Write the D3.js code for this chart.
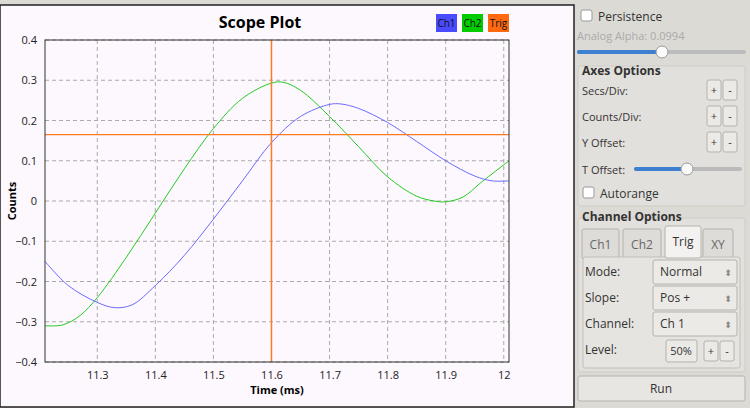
<!DOCTYPE html>
<html><head><meta charset="utf-8">
<script src="https://cdn.jsdelivr.net/npm/d3@7"></script>
<style>
body{margin:0;background:#dcdad5;font-family:"Open Sans","DejaVu Sans",sans-serif;}
svg text{font-family:"Open Sans","DejaVu Sans",sans-serif;}
</style></head><body>
<div id="chart"></div>
<script>
const width = 750, height = 408;

// data (time in ms, counts)
const ch1Time = [11.21, 11.25, 11.3, 11.33, 11.36, 11.4, 11.45, 11.5, 11.55, 11.6, 11.65, 11.7, 11.72, 11.75, 11.8, 11.85, 11.9, 11.95, 11.98, 12.009];
const ch1Vals = [-0.15, -0.21, -0.252, -0.265, -0.258, -0.21, -0.135, -0.045, 0.05, 0.145, 0.21, 0.24, 0.241, 0.23, 0.195, 0.148, 0.1, 0.062, 0.05, 0.05];
const ch2Time = [11.21, 11.24, 11.27, 11.3, 11.35, 11.4, 11.45, 11.5, 11.55, 11.6, 11.62, 11.65, 11.7, 11.75, 11.8, 11.85, 11.88, 11.9, 11.93, 11.96, 12.009];
const ch2Vals = [-0.31, -0.308, -0.285, -0.24, -0.14, -0.03, 0.08, 0.18, 0.255, 0.293, 0.295, 0.275, 0.21, 0.135, 0.06, 0.012, 0.0, -0.002, 0.01, 0.045, 0.1];
const xTicks = [11.3, 11.4, 11.5, 11.6, 11.7, 11.8, 11.9, 12];
const yTicks = [-0.4, -0.3, -0.2, -0.1, 0, 0.1, 0.2, 0.3, 0.4];
const trigLevel = 0.165, trigTime = 11.6;
const legend = [{name: "Ch1", color: "#4a4aff"}, {name: "Ch2", color: "#00cc00"}, {name: "Trig", color: "#ff6a10"}];

const svg = d3.select("#chart").append("svg").attr("width", width).attr("height", height);

// plot panel background
svg.append("rect").attr("x", 0).attr("y", 5).attr("width", 574).attr("height", 402)
  .attr("fill", "#fdf8fd").attr("stroke", "#222").attr("stroke-width", 1.5);

const area = {left: 45, right: 509, top: 40, bottom: 362};
const x = d3.scaleLinear().domain([11.21, 12.009]).range([area.left, area.right]);
const y = d3.scaleLinear().domain([-0.4, 0.4]).range([area.bottom, area.top]);

// gridlines
const grid = svg.append("g").attr("stroke", "#aaa").attr("stroke-dasharray", "4,3");
grid.selectAll(".gx").data(xTicks).join("line")
  .attr("x1", d => x(d)).attr("x2", d => x(d)).attr("y1", area.top).attr("y2", area.bottom);
grid.selectAll(".gy").data(yTicks).join("line")
  .attr("x1", area.left).attr("x2", area.right).attr("y1", d => y(d)).attr("y2", d => y(d));

// axes
svg.append("g").attr("transform", `translate(0,${area.bottom})`)
  .call(d3.axisBottom(x).tickValues(xTicks).tickFormat(d3.format("")).tickSize(0).tickPadding(9))
  .call(g => g.select(".domain").remove())
  .selectAll("text").attr("font-size", 11).attr("fill", "#222");
svg.append("g").attr("transform", `translate(${area.left},0)`)
  .call(d3.axisLeft(y).tickValues(yTicks).tickFormat(d => d3.format("")(+d.toFixed(1))).tickSize(0).tickPadding(8))
  .call(g => g.select(".domain").remove())
  .selectAll("text").attr("font-size", 11).attr("fill", "#222");

svg.append("text").attr("x", (area.left + area.right) / 2).attr("y", 394).attr("text-anchor", "middle")
  .attr("font-size", 11).attr("font-weight", "bold").text("Time (ms)");
svg.append("text").attr("transform", `translate(16,${(area.top + area.bottom) / 2}) rotate(-90)`)
  .attr("text-anchor", "middle").attr("font-size", 11).attr("font-weight", "bold").text("Counts");
svg.append("text").attr("x", 260).attr("y", 28).attr("text-anchor", "middle")
  .attr("font-size", 16).attr("font-weight", "bold").text("Scope Plot");

// legend
const lg = svg.append("g").selectAll("g").data(legend).join("g")
  .attr("transform", (d, i) => `translate(${436 + i * 26},14)`);
lg.append("rect").attr("width", 21).attr("height", 18).attr("fill", d => d.color);
lg.append("text").attr("x", 10.5).attr("y", 13).attr("text-anchor", "middle").attr("font-size", 10)
  .attr("fill", "#111").text(d => d.name);

// traces
const line = d3.line().x(d => x(d[0])).y(d => y(d[1])).curve(d3.curveCatmullRom);
svg.append("path").datum(ch2Time.map((t, i) => [t, ch2Vals[i]])).attr("d", line)
  .attr("fill", "none").attr("stroke", "#22cc22").attr("stroke-width", 1);
svg.append("path").datum(ch1Time.map((t, i) => [t, ch1Vals[i]])).attr("d", line)
  .attr("fill", "none").attr("stroke", "#6b6bff").attr("stroke-width", 1);
svg.append("line").attr("x1", area.left).attr("x2", area.right).attr("y1", y(trigLevel)).attr("y2", y(trigLevel))
  .attr("stroke", "#ff7a20").attr("stroke-width", 1.2);
svg.append("line").attr("x1", x(trigTime)).attr("x2", x(trigTime)).attr("y1", area.top).attr("y2", area.bottom)
  .attr("stroke", "#ff7a20").attr("stroke-width", 1.5);

svg.append("rect").attr("x", area.left).attr("y", area.top).attr("width", area.right - area.left)
  .attr("height", area.bottom - area.top).attr("fill", "none").attr("stroke", "#333");

// control panel
const p = svg.append("g");
function label(tx, ty, s, opts = {}) {
  p.append("text").attr("x", tx).attr("y", ty).attr("font-size", opts.size || 12)
    .attr("font-weight", opts.bold ? "bold" : null).attr("fill", opts.fill || "#333")
    .attr("text-anchor", opts.anchor || "start").text(s);
}
function box(bx, by, w, h, fill = "#eceae6", stroke = "#b5b2ac") {
  p.append("rect").attr("x", bx).attr("y", by).attr("width", w).attr("height", h).attr("rx", 2)
    .attr("fill", fill).attr("stroke", stroke);
}
function slider(x0, x1, k, yy) {
  p.append("line").attr("x1", x0).attr("x2", x1).attr("y1", yy).attr("y2", yy).attr("stroke", "#bbb").attr("stroke-width", 4).attr("stroke-linecap", "round");
  p.append("line").attr("x1", x0).attr("x2", k).attr("y1", yy).attr("y2", yy).attr("stroke", "#3d7fd0").attr("stroke-width", 4).attr("stroke-linecap", "round");
  p.append("circle").attr("cx", k).attr("cy", yy).attr("r", 6).attr("fill", "#fafafa").attr("stroke", "#999");
}
function pm(bx, by) {
  box(bx, by, 14, 20); box(bx + 16, by, 14, 20);
  label(bx + 7, by + 14, "+", {size: 11, anchor: "middle"});
  label(bx + 23, by + 14, "-", {size: 11, anchor: "middle"});
}
box(581, 10, 11, 11, "#fff", "#999"); label(598, 21, "Persistence", {size: 12});
label(577, 40, "Analog Alpha: 0.0994", {size: 11, fill: "#aaa"});
slider(579, 744, 662, 52);
box(578, 66, 167, 140, "#e2e0dc", "#cfccc6");
label(582, 75, "Axes Options", {bold: true});
label(582, 95, "Secs/Div:", {size: 11}); pm(707, 80);
label(582, 121, "Counts/Div:", {size: 11}); pm(707, 106);
label(582, 147, "Y Offset:", {size: 11}); pm(707, 132);
label(582, 174, "T Offset:", {size: 11}); slider(636, 740, 687, 169);
box(583, 187, 11, 11, "#fff", "#999"); label(600, 198, "Autorange", {size: 12});
box(578, 218, 167, 154, "#e2e0dc", "#cfccc6");
label(582, 221, "Channel Options", {bold: true});
[["Ch1", 582, 37], ["Ch2", 623, 38], ["XY", 703, 30]].forEach(([t, tx, w]) => {
  box(tx, 229, w, 30, "#dedcd8"); label(tx + w / 2, 249, t, {size: 12, anchor: "middle", fill: "#666"});
});
box(583, 257, 157, 111, "#e6e4e0", "#c2bfb9");
box(665, 226, 36, 32, "#f3f2f0"); label(683, 246, "Trig", {size: 12, anchor: "middle"});
[["Mode:", "Normal", 260], ["Slope:", "Pos +", 286], ["Channel:", "Ch 1", 312]].forEach(([l, v, by]) => {
  label(585, by + 16, l, {size: 12});
  box(653, by, 84, 24, "#eceae6");
  label(660, by + 16, v, {size: 12});
  label(728, by + 16, "⬍", {size: 9, anchor: "middle", fill: "#888"});
});
label(585, 354, "Level:", {size: 12});
box(666, 340, 31, 22); label(681, 355, "50%", {size: 11, anchor: "middle"});
pm(704, 341);
box(578, 376, 167, 25, "#e8e6e2"); label(661, 393, "Run", {size: 12, anchor: "middle"});
</script></body></html>
